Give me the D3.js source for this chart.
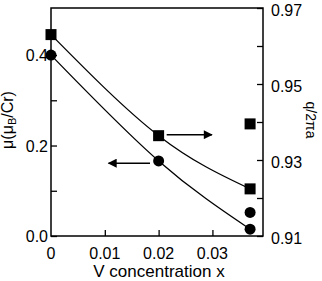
<!DOCTYPE html>
<html lang="en">

<head>
    <meta charset="UTF-8">
    <script src="https://d3js.org/d3.v7.min.js"></script>
    <style>
        body { margin: 0; background: #fff; }
        text { font-family: "Liberation Sans", Arial, sans-serif; fill: #000; }
    </style>
</head>

<body>
    <div class="chart"></div>
    <script>
        // data
        let conc = [0, 0.02, 0.037]
        let moment = [0.40, 0.166, 0.015]      // left axis, circles on the fitted line
        let qVals = [0.963, 0.9364, 0.9224]    // right axis, squares on the fitted line
        let extraConc = [0.037]
        let extraMoment = [0.052]
        let extraQ = [0.9395]
        let xTicks = [0.01, 0.02, 0.03]
        let xLabels = [0, 0.01, 0.02, 0.03]
        let leftTicks = [0, 0.1, 0.2, 0.3, 0.4]
        let leftLabels = [0, 0.2, 0.4]
        let rightTicks = [0.91, 0.92, 0.93, 0.94, 0.95, 0.96, 0.97]
        let rightLabels = [0.91, 0.93, 0.95, 0.97]

        let width = 322
        let height = 281
        let margin = { top: 8, right: 59, bottom: 45, left: 51 }
        let w = width - margin.left - margin.right
        let h = height - margin.top - margin.bottom

        var svg = d3.select(".chart").append("svg")
            .attr("width", width)
            .attr("height", height)
            .append("g")
            .attr("transform", "translate(" + margin.left + "," + margin.top + ")")

        var x = d3.scaleLinear().domain([0, 0.0394]).range([0, w])
        var yL = d3.scaleLinear().domain([0, 0.504]).range([h, 0])
        var yR = d3.scaleLinear().domain([0.91, 0.97]).range([h, 0])

        // frame
        svg.append("rect")
            .attr("width", w).attr("height", h)
            .attr("fill", "none").attr("stroke", "#000").attr("stroke-width", 1.5)

        // axes with inward ticks
        svg.append("g").attr("transform", "translate(0," + h + ")")
            .call(d3.axisBottom(x).tickValues(xTicks).tickSizeInner(-6).tickSizeOuter(0).tickFormat(""))
        svg.append("g")
            .call(d3.axisLeft(yL).tickValues(leftTicks).tickSizeInner(-6).tickSizeOuter(0).tickFormat(""))
        svg.append("g").attr("transform", "translate(" + w + ",0)")
            .call(d3.axisRight(yR).tickValues(rightTicks).tickSizeInner(-6).tickSizeOuter(0).tickFormat(""))
        svg.selectAll(".domain").remove()
        svg.selectAll(".tick line").attr("stroke", "#000").attr("stroke-width", 1.3)

        // tick labels
        svg.selectAll(".xl").data(xLabels).enter().append("text")
            .attr("x", d => x(d)).attr("y", h + 23)
            .attr("text-anchor", "middle").style("font-size", "16px")
            .text(d => d === 0 ? "0" : d.toFixed(2))
        svg.selectAll(".ll").data(leftLabels).enter().append("text")
            .attr("x", -3).attr("y", d => yL(d) + 6)
            .attr("text-anchor", "end").style("font-size", "16px")
            .text(d => d.toFixed(1))
        svg.selectAll(".rl").data(rightLabels).enter().append("text")
            .attr("x", w + 8).attr("y", d => yR(d) + 8)
            .attr("text-anchor", "start").style("font-size", "16px")
            .text(d => d.toFixed(2))

        // axis titles
        svg.append("text")
            .attr("x", w / 2 + 2).attr("y", h + 41)
            .attr("text-anchor", "middle").style("font-size", "17px")
            .text("V concentration x")
        var yt = svg.append("text")
            .attr("transform", "translate(-38," + (h / 2 - 2) + ") rotate(-90)")
            .attr("text-anchor", "middle").style("font-size", "16px")
        yt.append("tspan").text("μ(μ")
        yt.append("tspan").attr("baseline-shift", "-25%").style("font-size", "11px").text("B")
        yt.append("tspan").text("/Cr)")
        svg.append("text")
            .attr("transform", "translate(" + (w + 43) + "," + (h / 2 - 2) + ") rotate(90)")
            .attr("text-anchor", "middle").style("font-size", "14px")
            .text("q/2πa")

        // fitted curves
        var lineL = d3.line().x((d, i) => x(conc[i])).y(d => yL(d)).curve(d3.curveNatural)
        var lineR = d3.line().x((d, i) => x(conc[i])).y(d => yR(d)).curve(d3.curveNatural)
        svg.append("path").attr("d", lineL(moment)).attr("fill", "none").attr("stroke", "#000").attr("stroke-width", 1.3)
        svg.append("path").attr("d", lineR(qVals)).attr("fill", "none").attr("stroke", "#000").attr("stroke-width", 1.3)

        // markers
        var circ = moment.map((d, i) => [conc[i], d]).concat(extraMoment.map((d, i) => [extraConc[i], d]))
        var sq = qVals.map((d, i) => [conc[i], d]).concat(extraQ.map((d, i) => [extraConc[i], d]))
        svg.selectAll(".c").data(circ).enter().append("circle")
            .attr("cx", d => x(d[0])).attr("cy", d => yL(d[1])).attr("r", 5.5).attr("fill", "#000")
        svg.selectAll(".s").data(sq).enter().append("rect")
            .attr("x", d => x(d[0]) - 5.5).attr("y", d => yR(d[1]) - 5.5)
            .attr("width", 11).attr("height", 11).attr("fill", "#000")

        // arrows pointing to each series' axis
        svg.append("defs").append("marker")
            .attr("id", "head").attr("viewBox", "0 0 10 10").attr("refX", 9).attr("refY", 5)
            .attr("markerWidth", 11).attr("markerHeight", 9).attr("markerUnits", "userSpaceOnUse")
            .attr("orient", "auto")
            .append("path").attr("d", "M0,0L10,5L0,10Z").attr("fill", "#000")
        var arrows = [
            { x1: 0.0215, x2: 0.0299, y: 0.224 },
            { x1: 0.0184, x2: 0.0107, y: 0.161 }
        ]
        svg.selectAll(".arr").data(arrows).enter().append("line")
            .attr("x1", d => x(d.x1)).attr("x2", d => x(d.x2))
            .attr("y1", d => yL(d.y)).attr("y2", d => yL(d.y))
            .attr("stroke", "#000").attr("stroke-width", 1.5)
            .attr("marker-end", "url(#head)")
    </script>
</body>

</html>
